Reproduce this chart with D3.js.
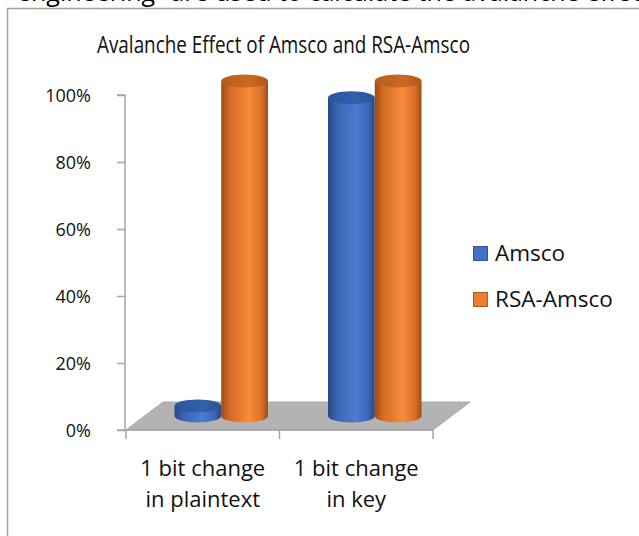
<!DOCTYPE html>
<html>
<head>
<meta charset="utf-8">
<script src="https://cdn.jsdelivr.net/npm/d3@7"></script>
<style>
  html, body { margin: 0; padding: 0; background: #fff; }
  svg { display: block; font-family: "Open Sans", "Noto Sans", sans-serif; }
</style>
</head>
<body>
<svg id="chart" width="639" height="536"></svg>
<script>
// Chart data
const categories = ["1 bit change in plaintext", "1 bit change in key"];
const categoryLines = [["1 bit change", "in plaintext"], ["1 bit change", "in key"]];
const seriesNames = ["Amsco", "RSA-Amsco"];
const amscoValues = [0.03, 0.95];
const rsaAmscoValues = [1.00, 1.00];
const yTickValues = [0, 0.2, 0.4, 0.6, 0.8, 1.0];
const titleText = "Avalanche Effect of Amsco and RSA-Amsco";
const captionText = "engineering” are used to calculate the avalanche effect";

const seriesValues = [amscoValues, rsaAmscoValues];

const svg = d3.select("#chart");
const W = 639, H = 536;

// Plot frame (front plane) and 3D floor depth
const plot = { left: 126, right: 433, top: 95, bottom: 430 };
const depth = { dx: 37, dy: -28 };
const half = { dx: depth.dx / 2, dy: depth.dy / 2 };

const y = d3.scaleLinear().domain([0, 1]).range([plot.bottom, plot.top]);
const x0 = d3.scaleBand().domain(categories).range([plot.left, plot.right]).padding(0);
const x1 = d3.scaleBand().domain(seriesNames).range([30, x0.bandwidth() - 30]).padding(0);

const palette = {
  "Amsco":     { stops: ["#27477f", "#3a63b0", "#4a7cd4", "#3d66b3", "#274780"], top: "#2f5ba5", edge: "#2f5597" },
  "RSA-Amsco": { stops: ["#9c4a16", "#d46b25", "#f88c3b", "#da7029", "#9e4b17"], top: "#c2631f", edge: "#ae5a21" }
};

// Cropped line of surrounding text above the chart box
svg.append("text")
  .attr("x", 17).attr("y", 1)
  .attr("font-size", 25).attr("fill", "#000")
  .text(captionText);

// Chart area border
svg.append("rect")
  .attr("x", 7.5).attr("y", 8.5)
  .attr("width", W + 20).attr("height", H + 20)
  .attr("fill", "#fff").attr("stroke", "#a0a0a0").attr("stroke-width", 1.5);

// Title (narrow setting)
svg.append("text")
  .attr("x", 97).attr("y", 53)
  .attr("font-size", 23).attr("fill", "#111")
  .attr("textLength", 373).attr("lengthAdjust", "spacingAndGlyphs")
  .text(titleText);

// Gradients for cylinder bodies
const defs = svg.append("defs");
seriesNames.forEach((s, i) => {
  const g = defs.append("linearGradient").attr("id", "grad" + i)
    .attr("x1", "0%").attr("x2", "100%").attr("y1", "0%").attr("y2", "0%");
  const offs = [0, 0.18, 0.6, 0.86, 1];
  palette[s].stops.forEach((c, k) => g.append("stop").attr("offset", offs[k]).attr("stop-color", c));
  const t = defs.append("linearGradient").attr("id", "top" + i)
    .attr("x1", "0%").attr("x2", "100%").attr("y1", "0%").attr("y2", "0%");
  t.append("stop").attr("offset", 0).attr("stop-color", d3.color(palette[s].top).darker(0.2));
  t.append("stop").attr("offset", 0.6).attr("stop-color", d3.color(palette[s].top).brighter(0.15));
  t.append("stop").attr("offset", 1).attr("stop-color", d3.color(palette[s].top).darker(0.3));
});

// Floor
const floorPts = [
  [plot.left, plot.bottom], [plot.right, plot.bottom],
  [plot.right + depth.dx, plot.bottom + depth.dy], [plot.left + depth.dx, plot.bottom + depth.dy]
];
svg.append("polygon")
  .attr("points", floorPts.map(p => p.join(",")).join(" "))
  .attr("fill", "#b3b3b3").attr("stroke", "#a9a9a9").attr("stroke-width", 1);

// Y axis
const yAxis = d3.axisLeft(y).tickValues(yTickValues).tickFormat(d3.format(".0%"))
  .tickSize(8).tickPadding(26);
const yg = svg.append("g").attr("transform", `translate(${plot.left - 1},0)`).call(yAxis);
yg.select(".domain").attr("stroke", "#a6a6a6").attr("stroke-width", 1.5).attr("d", `M-8,${plot.top}H0V${plot.bottom}H-8`);
yg.selectAll(".tick line").attr("stroke", "#a6a6a6").attr("stroke-width", 1.5);
yg.selectAll(".tick text").attr("font-size", 18).attr("fill", "#111")
  .attr("font-family", "'Open Sans', 'Noto Sans', sans-serif").attr("dy", "0.36em");

// Category axis line with ticks at band boundaries
const xg = svg.append("g");
xg.append("line")
  .attr("x1", plot.left).attr("x2", plot.right)
  .attr("y1", plot.bottom).attr("y2", plot.bottom)
  .attr("stroke", "#a6a6a6").attr("stroke-width", 1.5);
const edges = categories.map(c => x0(c)).concat([x0(categories[categories.length - 1]) + x0.bandwidth()]);
xg.selectAll("line.tick").data(edges).join("line").attr("class", "tick")
  .attr("x1", d => d).attr("x2", d => d)
  .attr("y1", plot.bottom).attr("y2", plot.bottom + 9)
  .attr("stroke", "#a6a6a6").attr("stroke-width", 1.5);
categories.forEach((c, i) => {
  const t = xg.append("text")
    .attr("x", x0(c) + x0.bandwidth() / 2)
    .attr("text-anchor", "middle")
    .attr("font-size", 22).attr("fill", "#111");
  categoryLines[i].forEach((ln, k) => {
    t.append("tspan").attr("x", x0(c) + x0.bandwidth() / 2).attr("y", 476 + k * 31).text(ln);
  });
});

// Cylinders
const ry = 6.5;
const bars = [];
categories.forEach((c, ci) => {
  seriesNames.forEach((s, si) => {
    bars.push({ c, s, si, v: seriesValues[si][ci] });
  });
});
const cyl = svg.append("g").selectAll("g").data(bars).join("g");
cyl.each(function (d) {
  const g = d3.select(this);
  const left = x0(d.c) + x1(d.s) + half.dx;
  const w = x1.bandwidth();
  const cx = left + w / 2;
  const rx = w / 2;
  const yb = y(0) + half.dy;
  const yt = y(d.v) + half.dy;
  // body: side walls + bottom half-ellipse
  g.append("path")
    .attr("d", `M${left},${yt} L${left},${yb} A${rx},${ry} 0 0 0 ${left + w},${yb} L${left + w},${yt} Z`)
    .attr("fill", `url(#grad${d.si})`);
  // top cap
  g.append("ellipse")
    .attr("cx", cx).attr("cy", yt).attr("rx", rx).attr("ry", ry)
    .attr("fill", `url(#top${d.si})`);
});

// Legend
const legend = svg.append("g");
seriesNames.forEach((s, i) => {
  const ly = 246 + i * 46;
  legend.append("rect")
    .attr("x", 473.5).attr("y", ly + 0.5).attr("width", 14).attr("height", 14)
    .attr("fill", i === 0 ? "#4472c4" : "#ed7d31")
    .attr("stroke", palette[s].edge).attr("stroke-width", 1);
  legend.append("text")
    .attr("x", 495).attr("y", ly + 15)
    .attr("font-size", 22.5).attr("fill", "#111")
    .text(s);
});
</script>
</body>
</html>
